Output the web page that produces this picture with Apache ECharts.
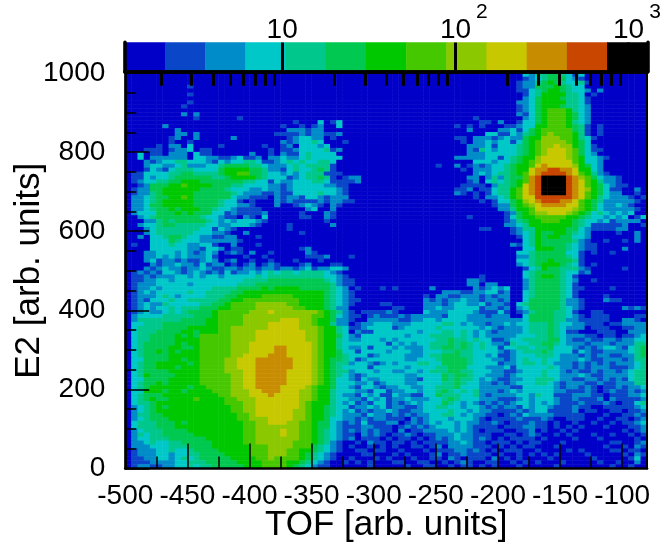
<!DOCTYPE html>
<html>
<head>
<meta charset="utf-8">
<style>html,body{margin:0;padding:0;background:#fff}#c{width:662px;height:548px}</style>
<script src="https://cdn.jsdelivr.net/npm/echarts@6/dist/echarts.min.js"></script>
</head>
<body>
<div id="c"></div>
<script>
const FONT = '"Liberation Sans"';
const xMajor = [-500,-450,-400,-350,-300,-250,-200,-150,-100];
const xMinor = [-475,-425,-375,-325,-275,-225,-175,-125];
const cbMajor = [10,100,1000];
const cbMinor = [2,3,4,5,6,7,8,9,20,30,40,50,60,70,80,90,200,300,400,500,600,700,800,900];
const levelColors = ['#0000c8','#0a46c8','#008cc8','#00c8c8','#00c88c','#00c850','#00c800','#46c800','#8cc800','#c8c800','#c88c00','#c84600','#000000'];
const levelEdges = [0,2.14,3.63,6.15,10.4,17.6,29.8,50.4,85.4,144.6,245,414,701,1e6];
const levelValues = [1,3,5,8,13,23,39,66,111,188,320,540,900];
// one string per row, top row first; each character is the colour level (hex) of one bin
const rows = [
"000000000000 000000000000 000000000000 000000000000 000000000000 000032445543 130000000000",
"000000000000 000000000000 000000000000 000000000000 000000000000 000012345553 210000000000",
"000000000000 000000000000 000000000000 000000000000 000000000000 000122456543 341000000000",
"000000000010 000000000000 000000000000 000000000000 000000000000 000122555654 330000000000",
"000000000000 000000000000 000000000000 000000000000 000000000000 000113456654 332020000000",
"000000000010 000000000000 000000000000 000000000000 000000000000 000013466664 430100000000",
"000000000000 000000000000 000000000000 000000000000 000000000000 000023566654 431000000000",
"000000000010 000000000000 000000000000 000000000000 000000000000 000223566664 431000000000",
"000000000100 000000000000 000000000000 000000000000 000000000000 000123566654 432000000000",
"000000000000 000000000000 000000000000 000000000000 000000000000 000123567776 432000000000",
"000000000202 000000000000 000000000000 000000000000 000000000000 000213567776 532000000000",
"000000000001 000000100000 000000000000 000000000000 000000001000 000023567776 532000000000",
"000000000000 000000000000 000100030130 000000000000 000000000110 200133567776 432000000000",
"000000200000 000000000000 010010120030 000000000000 000001010100 011233667776 541010000000",
"000000002000 000000000000 002221220000 000000000000 000000020000 223135677777 541010000000",
"000000002202 000000000000 111121221120 000000000000 000000000033 113245678777 641010000000",
"000000012002 000002000000 001233220100 000000000000 000001102221 232256688877 643100000000",
"000000010010 000000000000 021233430001 000000000000 000000102232 331356788887 653000000000",
"000001022030 000100000010 012033323000 000000000000 000000022231 333456788988 653100000000",
"000111012230 110000000001 011233334120 000000000000 000000021432 333456789998 753110000000",
"003011022203 110000002001 021134333300 000000000000 000000022233 333456789998 753200000000",
"003022222203 322112311202 232234333330 000000000000 000002222233 134566899998 763321000000",
"000212334433 321323344311 234343344300 000000000000 000000003332 334567899999 763320000000",
"000233223422 233455554432 223434444100 000000000000 001002012123 3456679a9999 865320000000",
"000132134443 333566665542 213433454100 000000000000 000000102223 345669aabbaa 966320000000",
"011333344554 444566775543 323234441110 000000000000 000000002323 445679abbbba 976421000000",
"011323345555 554456666543 331234454101 220000000000 000000022024 24557abccccb a87532210000",
"012334455666 555555544331 322333443111 120000000000 000000012034 34567abccccb a97642210000",
"001255566766 665554433332 212333332211 000000000000 000000111102 44569abccccb a97653211000",
"012255666666 555543332232 212333333321 000000000000 000001120113 44679abccccb a98653110020",
"012245666665 555554322211 211333343321 000000000000 000002101013 44679abccccb a97653220010",
"022345566765 555553221110 212213321222 000000000000 000000001022 346799bbbbbb a97643222101",
"022345666665 555433101000 212111121221 100000000000 000000000101 335689abbbaa 976542222210",
"022355666665 555433221000 200123210210 000000000000 000000000001 2256789aaaa9 976532232100",
"022345565666 554332111100 000002300200 000000000000 000000000000 224667999999 876532222210",
"023335556565 553312111120 000010002100 000000000000 000000000000 012567889998 765343232300",
"002345555555 433211021030 000011002100 000000000000 000000010000 013566777776 654332323013",
"000224545555 543232333210 000000001000 000000000000 000000000000 012456677766 543323122220",
"002334554444 433223332100 001000000200 000000000000 000000000000 022346666666 543111112001",
"000234444444 331321000000 001000000000 000000000000 000000000110 001244666665 532111122000",
"000234444443 332210020000 000010000000 000000000000 000000000000 001234655665 432000010020",
"002033455433 221122000100 000000000000 000000000000 000000000000 000134656655 332000000020",
"000033354333 222222100000 000000000000 000000000000 000000000000 000034655555 421001001020",
"010033343322 331002000100 000000000000 000000000000 000000000000 002134655554 321100000000",
"000033333322 133201100000 000012000000 000000000000 000000000000 000033666554 321100002000",
"000223332321 232012102001 000002100000 000000000000 000000000000 000334555553 310100100000",
"000223232322 231000010010 000001112000 100000000000 000000000000 000224555554 310000000000",
"000231221211 232012001001 000100010000 000000000000 000000000000 000334556555 410000000000",
"000021223221 312201012012 100012000110 000000000000 000000000000 000234566654 310100000000",
"000212322122 321122122122 122123122332 000000000000 000000000000 000013465544 421000001000",
"012121332123 212131223234 344344443210 000000000000 000000000000 000034555543 312000000000",
"011212223323 233233333434 444444443321 000000000000 000000000100 000034566543 100000000000",
"011223323333 333333344445 555555554321 100000000000 000000022100 000024555543 200100000000",
"012223333323 333333444555 555555555421 100000000000 000000022022 000024555543 100000000000",
"012232333333 334444555565 666655555432 010001010000 020000002123 230024555543 110000100000",
"012323333343 344445566666 666666665432 100000000000 000222112233 120034555543 100000000000",
"012223432333 344455666677 777666665432 100000000000 102211222121 220034555543 100001000000",
"012133343344 444556677777 777766665432 110000000000 212122322122 120035555542 210002110000",
"012322433333 445567777888 887766665432 100001100000 222123322312 210345555542 210000000000",
"012323343444 555667777888 888776665422 000000011000 223223333122 120235555543 210000002121",
"012322343455 556777778889 888888876542 101111210000 322233332111 310124555443 100110000000",
"023333444445 556777788888 888888776532 110121112122 222133322212 220035555443 210111000011",
"024444444555 566777788888 899988766522 100222221122 332333322222 222235555442 211111002210",
"033444555555 566777788889 999988766422 012233322233 333443232212 232334445433 221110112222",
"034444555566 666778888889 999988876643 112333312333 334333333232 122234445432 220111001122",
"034445555665 666778888999 999998876643 021133333332 333443432321 222234445431 100011100222",
"034455556565 777778888999 999998876653 213333333233 344443432322 222333445432 221101101123",
"034455556666 777778888999 999998876643 223332323333 334454434331 123344445532 112112212233",
"034555556566 777778889999 999999876643 333333132323 344454543432 214334455432 221222122244",
"034555566556 777778889999 aa9999876643 223133323222 344554543433 133443445333 212123321345",
"034556565666 777778889999 aa9999876653 313333233322 333445443333 212344454333 132112222345",
"034555566666 77777889999a aa9999876654 333123333222 344555443323 112333444322 212122112245",
"033555566566 777788999aaa aaa999876554 312333333223 334555543332 212343343322 232112221244",
"034556666656 777788999aaa aaa999876544 233212323334 433555543333 122344343222 121212122234",
"034556665666 777788999aaa aaa999876543 333133333233 334455533322 231333334322 121222111234",
"034555566666 777788899aaa aa9999876544 233323322332 344455443332 211233343321 211212212344",
"034655556666 777778899aaa aa9999876543 212333333223 333545543322 212333343322 232112222344",
"033555566666 777778899aaa aa9999876533 213223333221 333545443232 112233444322 112212121344",
"034556566666 777778899aaa aa9999876533 322312333223 333445433221 212333443212 221121122244",
"034566666656 677778899aaa a99998766533 213321223322 334445333222 221133333212 212101121223",
"033666566566 66777888 99aa a99988766433 322133122332 334543434222 123233333221 112101211212",
"034555666666 66677888999a 999988766432 213231132211 335444334212 222332433111 222110111223",
"034565566667 666677888999 999988766433 221323122322 233454333222 111232333211 211120211112",
"034456666666 666677788999 999987666432 312133121232 333543232121 212332323211 121112101134",
"023456566666 666667788999 999987665433 122323122112 334433233212 122132332111 211001111123",
"023456666666 666667788999 999887665432 312122321122 333343323221 111212331111 201100110112",
"024455666666 666666778999 999887665432 221322121212 233443232211 012132222111 110001001121",
"023455566666 666666778889 999887665332 212122111021 233323332101 111211121001 110010011012",
"034445556566 666666677889 998877655321 213111220121 232332322112 101112110100 100100101123",
"034445556666 666666677888 888877655321 112211101212 123332321111 011122110101 010001000112",
"023444555566 666666677888 898877654321 212121102011 222232321011 100112010010 100000001012",
"024344555556 666666677888 898877654321 102121011210 112223221110 011012100101 000100100101",
"023344455555 566666677888 888877654321 201110101101 012123221210 101111010000 100010000010",
"022343344555 556666677888 888777654210 010211011010 111122321101 110101100010 000000110012",
"022233344455 556666667778 888777543210 100101010011 012022221110 101011000100 000001001021",
"012223343345 555666667778 887766543210 011011001000 101112212101 011100100001 010000110110",
"012223323344 555566667778 887765432100 001100010100 012011211110 100101010100 001000001021",
"011223323434 555556666778 777765432100 100010100010 011021011102 010100001000 000100000130",
"011122223344 455555666677 776654321001 010100011001 100101210011 001010100010 000010010020",
"012211223343 445555566677 776543211000 000100000100 110010110101 000100000100 000000100100"
];

const cells = [];
rows.forEach((s, r) => {
  [...s.replace(/ /g,'')].forEach((ch, c) => {
    cells.push([c, rows.length - 1 - r, levelValues[parseInt(ch,16)]]);
  });
});
const xCats = rows[0].replace(/ /g,'').split('').map((_, i) => String(i));
const yCats = rows.map((_, i) => String(i));
const barCells = levelValues.map((v, i) => [i, 0, v]);
const black = '#000';
const lineAxis = (w) => ({show:true, lineStyle:{color:black, width:w}});
const hiddenBits = {axisTick:{show:false}, axisLabel:{show:false}, splitLine:{show:false}};
const cbMin = 0.0925, cbMax = 3.11;

const option = {
  animation:false,
  backgroundColor:'#fff',
  grid:[
    {left:125, top:42.4, width:522.5, height:29, outerBoundsMode:'none'},
    {left:125.3, top:73, width:521.7, height:395.5, outerBoundsMode:'none'}
  ],
  visualMap:{
    show:false, type:'piecewise', seriesIndex:[0,1], dimension:2,
    pieces: levelColors.map((color,i)=>({gte:levelEdges[i], lt:levelEdges[i+1], color}))
  },
  xAxis:[
    {type:'category', gridIndex:0, show:false, data:levelValues.map(String)},
    {type:'value', gridIndex:0, position:'top', z:5, min:cbMin, max:cbMax,
      axisLine:lineAxis(3.6), splitLine:{show:false}, axisLabel:{show:false},
      axisTick:{show:true, inside:true, length:14.3, lineStyle:{color:black,width:3}, customValues:cbMinor.map(Math.log10)}},
    {type:'value', gridIndex:0, position:'top', z:5, min:cbMin, max:cbMax,
      axisLine:{show:false}, splitLine:{show:false},
      axisTick:{show:true, inside:true, length:29, lineStyle:{color:black,width:3}, customValues:cbMajor.map(Math.log10)},
      axisLabel:{show:true, margin:-1.6, color:black, fontFamily:FONT, fontSize:28, showMinLabel:true, showMaxLabel:true, hideOverlap:false,
        customValues:cbMajor.map(Math.log10),
        formatter:(v)=>{ const e=Math.round(v); return e===1 ? '{a|10}' : '{sp|}{a|10}{sup|'+e+'}'; },
        rich:{
          a:{fontFamily:FONT,fontSize:28,color:black,verticalAlign:'bottom',padding:[14,0,0,0]},
          sp:{width:17},
          sup:{fontFamily:FONT,fontSize:21,color:black,verticalAlign:'top',padding:[0,0,0,5]}
        }}},
    {type:'value', gridIndex:0, position:'bottom', z:5, min:0, max:1, axisLine:lineAxis(3.6), ...hiddenBits},
    {type:'category', gridIndex:1, show:false, data:xCats},
    {type:'value', gridIndex:1, position:'bottom', z:5, min:-500, max:-80,
      axisLine:lineAxis(2.7), splitLine:{show:false},
      axisTick:{show:true, inside:true, length:25, lineStyle:{color:black,width:1.5}, customValues:xMajor},
      axisLabel:{show:true, margin:14, color:black, fontFamily:FONT, fontSize:28, customValues:xMajor, hideOverlap:false},
      name:'TOF [arb. units]', nameLocation:'middle', nameGap:39, nameMoveOverlap:false,
      nameTextStyle:{color:black, fontFamily:FONT, fontSize:35}},
    {type:'value', gridIndex:1, position:'bottom', z:5, min:-500, max:-80,
      axisLine:{show:false}, splitLine:{show:false}, axisLabel:{show:false},
      axisTick:{show:true, inside:true, length:12, lineStyle:{color:black,width:1.5}, customValues:xMinor}}
  ],
  yAxis:[
    {type:'category', gridIndex:0, show:false, data:['0']},
    {type:'value', gridIndex:0, position:'left', z:5, min:0, max:1, axisLine:lineAxis(3.6), ...hiddenBits},
    {type:'value', gridIndex:0, position:'right', z:5, min:0, max:1, axisLine:lineAxis(3.6), ...hiddenBits},
    {type:'category', gridIndex:1, show:false, data:yCats},
    {type:'value', gridIndex:1, position:'left', z:5, min:0, max:1000, interval:200,
      axisLine:lineAxis(2.7), splitLine:{show:false},
      axisTick:{show:true, inside:true, length:24, lineStyle:{color:black,width:1.5}},
      minorTick:{show:true, splitNumber:4, length:11, lineStyle:{color:black,width:1.5}},
      minorSplitLine:{show:false},
      axisLabel:{show:true, margin:20, color:black, fontFamily:FONT, fontSize:28, formatter:(v)=>String(v)},
      name:'E2 [arb. units]', nameLocation:'middle', nameGap:78, nameMoveOverlap:false,
      nameTextStyle:{color:black, fontFamily:FONT, fontSize:35}},
    {type:'value', gridIndex:1, position:'right', z:5, min:0, max:1000, axisLine:lineAxis(2), ...hiddenBits}
  ],
  series:[
    {type:'heatmap', xAxisIndex:0, yAxisIndex:0, data:barCells, progressive:0, silent:true, itemStyle:{borderWidth:0}},
    {type:'heatmap', xAxisIndex:4, yAxisIndex:3, data:cells, progressive:0, silent:true, itemStyle:{borderWidth:0}}
  ]
};
const chart = echarts.init(document.getElementById('c'), null, {renderer:'canvas'});
chart.setOption(option);
</script>
</body>
</html>
